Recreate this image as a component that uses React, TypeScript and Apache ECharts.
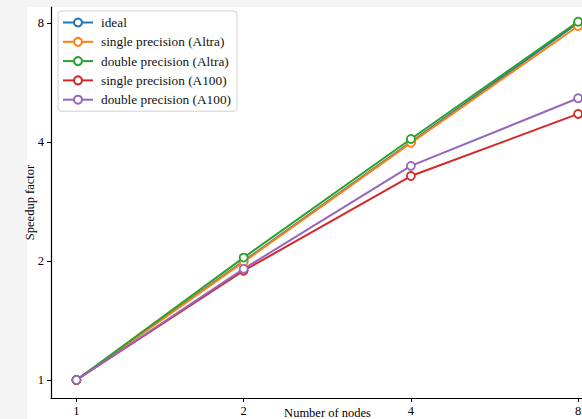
import React, { useEffect, useRef } from "react";
import * as echarts from "echarts";

const nodes = [1, 2, 4, 8];
const ideal = [1, 2, 4, 8];
const singleAltra = [1, 1.99, 3.98, 7.86];
const doubleAltra = [1, 2.04, 4.07, 8.06];
const singleA100 = [1, 1.89, 3.28, 4.71];
const doubleA100 = [1, 1.91, 3.48, 5.16];
const tickValues = [1, 2, 4, 8];

const seriesNames = [
  "ideal",
  "single precision (Altra)",
  "double precision (Altra)",
  "single precision (A100)",
  "double precision (A100)",
];
const seriesData = [ideal, singleAltra, doubleAltra, singleA100, doubleA100];
const colors = ["#1f77b4", "#ff7f0e", "#2ca02c", "#d62728", "#9467bd"];

const FONT = "'Liberation Serif', 'DejaVu Serif', serif";

export default function App() {
  const ref = useRef<HTMLDivElement>(null);
  useEffect(() => {
    if (!ref.current) return;
    const chart = echarts.init(ref.current, undefined, { renderer: "svg" });
    chart.setOption({
      animation: false,
      backgroundColor: "#f4f4f4",
      color: colors,
      graphic: [
        {
          type: "rect",
          z: -10,
          silent: true,
          shape: { x: 27, y: 7, width: 560, height: 420 },
          style: { fill: "#ffffff" },
        },
      ],
      grid: {
        left: 51,
        right: 0,
        top: 7,
        bottom: 21,
        containLabel: false,
        outerBoundsMode: "none",
      },
      legend: {
        orient: "vertical",
        left: 58,
        top: 11,
        itemWidth: 30,
        itemHeight: 10,
        itemGap: 6.3,
        padding: [5, 6, 5, 4],
        backgroundColor: "rgba(255,255,255,0.85)",
        borderColor: "#d0d0d0",
        borderWidth: 1,
        borderRadius: 3,
        textStyle: {
          fontFamily: FONT,
          fontSize: 13.3,
          color: "#111",
          padding: [0, 0, 0, 3],
        },
        data: seriesNames,
      },
      xAxis: {
        type: "log",
        logBase: 2,
        min: 0.9,
        max: 8.13,
        name: "Number of nodes",
        nameLocation: "middle",
        nameGap: 8,
        nameMoveOverlap: false,
        nameTextStyle: {
          fontFamily: FONT,
          fontSize: 12.5,
          color: "#000",
          padding: [0, 0, 0, 22],
        },
        splitLine: { show: false },
        axisLine: { show: true, lineStyle: { color: "#000", width: 1.2 } },
        axisTick: {
          show: true,
          length: 4,
          lineStyle: { color: "#000" },
          customValues: tickValues,
        },
        axisLabel: {
          fontFamily: FONT,
          fontSize: 12.5,
          color: "#000",
          margin: 6,
          customValues: tickValues,
          formatter: (v: number) => String(Math.round(v)),
        },
        minorTick: { show: false },
      },
      yAxis: {
        type: "log",
        logBase: 2,
        min: 0.9005,
        max: 8.78,
        name: "Speedup factor",
        nameLocation: "middle",
        nameGap: 15,
        nameRotate: 90,
        nameMoveOverlap: false,
        nameTextStyle: { fontFamily: FONT, fontSize: 12.5, color: "#000" },
        splitLine: { show: false },
        axisLine: { show: true, lineStyle: { color: "#000", width: 1.2 } },
        axisTick: {
          show: true,
          length: 4,
          lineStyle: { color: "#000" },
          customValues: tickValues,
        },
        axisLabel: {
          fontFamily: FONT,
          fontSize: 12.5,
          color: "#000",
          margin: 7,
          customValues: tickValues,
          formatter: (v: number) => String(Math.round(v)),
        },
      },
      series: seriesNames.map((name, i) => ({
        name,
        type: "line",
        data: nodes.map((n, j) => [n, seriesData[i][j]]),
        symbol: "circle",
        symbolSize: 8,
        showSymbol: true,
        lineStyle: { width: 2, color: colors[i] },
        itemStyle: { color: "#ffffff", borderColor: colors[i], borderWidth: 1.8 },
        z: 2 + i,
      })),
    });
    return () => chart.dispose();
  }, []);
  return (
    <div
      ref={ref}
      style={{ position: "fixed", left: 0, top: 0, width: 582, height: 419 }}
    />
  );
}
